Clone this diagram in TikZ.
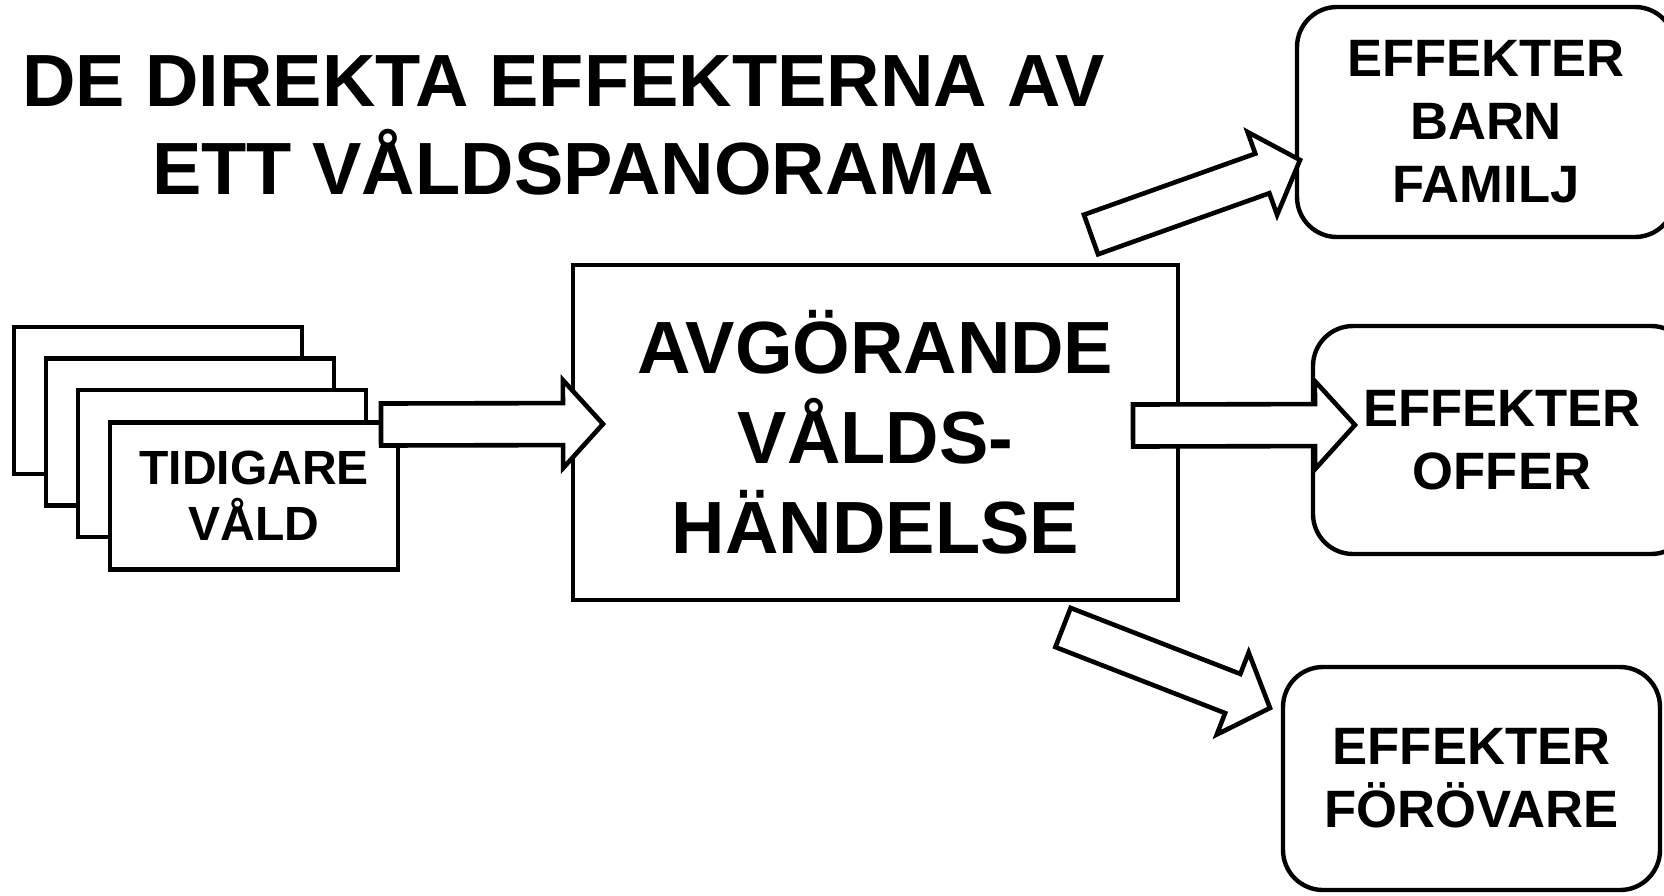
\documentclass[tikz,border=0pt]{standalone}
\usepackage{fontspec}
\setmainfont{Liberation Sans}
\usetikzlibrary{calc}

\newcommand{\fatarrow}[2]{%
  \coordinate (hb) at ($(#2)!20pt!(#1)$);
  \draw[fat] ($(#1)!10.5pt!90:(#2)$) -- ($(hb)!10.5pt!90:(#2)$) -- ($(hb)!22pt!90:(#2)$) -- (#2)
    -- ($(hb)!22pt!-90:(#2)$) -- ($(hb)!10.5pt!-90:(#2)$) -- ($(#1)!10.5pt!-90:(#2)$) -- cycle;
}

\begin{document}
\begin{tikzpicture}[x=0.5pt, y=-0.5pt,
    title/.style={inner sep=0pt, anchor=base, font=\bfseries\fontsize{37}{44}\selectfont},
    card/.style={draw, fill=white, line width=2.2pt, outer sep=0pt, inner sep=0pt, minimum width=144pt, minimum height=73.5pt, align=center, font=\bfseries\fontsize{24}{28}\selectfont},
    event/.style={draw, fill=white, line width=2.4pt, outer sep=0pt, inner sep=0pt, minimum width=302.5pt, minimum height=167.5pt, align=center, font=\bfseries\fontsize{37}{45}\selectfont},
    effect/.style={draw, fill=white, line width=2.2pt, rounded corners=20pt, outer sep=0pt, inner sep=0pt, minimum width=189pt, minimum height=115pt, align=center, font=\bfseries\fontsize{26.3}{31.5}\selectfont},
    fat/.style={draw, fill=white, line width=2.3pt}]
          \useasboundingbox (0,0) rectangle (1664,895);
          \clip (0,0) rectangle (1664,895);

          \node[title] at (563.5,106) (title1) {DE DIREKTA EFFEKTERNA AV};
          \node[title] at (573,194) (title2) {ETT VÅLDSPANORAMA};

          \node[card] at (158,400.5) (card1) {};
          \node[card] at (190,432) (card2) {};
          \node[card] at (222,463.5) (card3) {};
          \node[card] at (254,496) (card4) {TIDIGARE\\VÅLD};

          \node[event] at (875.5,432.5) (event) {AVGÖRANDE\\VÅLDS-\\HÄNDELSE};

          \node[effect] at (1486,122) (barn) {EFFEKTER\\BARN\\FAMILJ};
          \node[effect, minimum height=114pt] at (1502,440) (offer) {EFFEKTER\\OFFER};
          \node[effect, minimum width=188.5pt, minimum height=111.5pt] at (1471.5,778.5) (forovare) {EFFEKTER\\FÖRÖVARE};

          \coordinate (a1s) at ($(card4.north east)+(-17,2)$);
          \coordinate (a1e) at ($(event.west)+(30,-8.5)$);
          \coordinate (a2s) at ($(event.east)+(-45,-7)$);
          \coordinate (a2e) at ($(offer.west)+(42,-15)$);
          \coordinate (a3s) at ($(event.north east)+(-87,-30.5)$);
          \coordinate (a3e) at ($(barn.west)+(3,38)$);
          \coordinate (a4s) at ($(event.south east)+(-115,27.5)$);
          \coordinate (a4e) at ($(forovare.north west)+(-13,41)$);

          \fatarrow{a1s}{a1e}
          \fatarrow{a2s}{a2e}
          \fatarrow{a3s}{a3e}
          \fatarrow{a4s}{a4e}
        \end{tikzpicture}
\end{document}
